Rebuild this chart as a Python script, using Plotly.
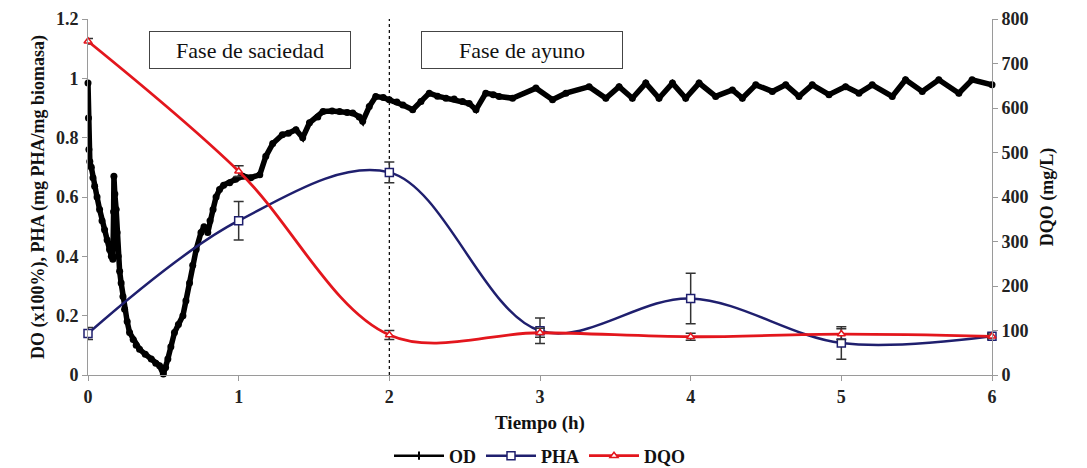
import plotly.graph_objects as go

# ---------------- data ----------------
sample_t = [0, 1, 2, 3, 4, 5, 6]
pha = [0.14, 0.52, 0.683, 0.149, 0.258, 0.108, 0.131]
pha_err = [0.02, 0.065, 0.035, 0.043, 0.085, 0.055, 0.01]
dqo = [750, 458, 90, 95, 86, 92, 87]
dqo_err = [6, 12, 10, 10, 8, 12, 5]

od_t = [0.000, 0.003, 0.006, 0.012, 0.022, 0.033, 0.044, 0.060, 0.077, 0.093,
        0.110, 0.127, 0.143, 0.155, 0.165, 0.170, 0.172, 0.178, 0.187, 0.193,
        0.200, 0.210, 0.220, 0.232, 0.243, 0.260, 0.276, 0.300, 0.320, 0.342,
        0.380, 0.420, 0.450, 0.475, 0.500, 0.515, 0.530, 0.550, 0.574, 0.600,
        0.630, 0.650, 0.674, 0.695, 0.718, 0.750, 0.770, 0.795, 0.810, 0.830,
        0.850, 0.873, 0.900, 0.940, 0.980, 1.027, 1.080, 1.140, 1.180, 1.226,
        1.290, 1.330, 1.380, 1.425, 1.470, 1.525, 1.560, 1.620, 1.670, 1.720,
        1.757, 1.800, 1.823, 1.867, 1.910, 1.960, 2.000, 2.050, 2.090, 2.155,
        2.210, 2.265, 2.320, 2.376, 2.430, 2.486, 2.530, 2.575, 2.640, 2.690,
        2.729, 2.818, 2.973, 3.083, 3.172, 3.326, 3.437, 3.525, 3.613, 3.702,
        3.790, 3.879, 3.967, 4.056, 4.166, 4.277, 4.343, 4.432, 4.542, 4.631,
        4.719, 4.807, 4.918, 5.028, 5.117, 5.205, 5.338, 5.426, 5.537, 5.647,
        5.780, 5.868, 6.000]
od = [0.984, 0.866, 0.760, 0.720, 0.700, 0.665, 0.636, 0.600, 0.558, 0.520,
      0.490, 0.455, 0.423, 0.400, 0.390, 0.550, 0.670, 0.610, 0.558, 0.480,
      0.400, 0.350, 0.310, 0.265, 0.222, 0.180, 0.143, 0.120, 0.100, 0.087,
      0.070, 0.054, 0.040, 0.031, 0.003, 0.025, 0.054, 0.095, 0.143, 0.170,
      0.200, 0.250, 0.310, 0.370, 0.423, 0.480, 0.500, 0.480, 0.520, 0.558,
      0.600, 0.625, 0.640, 0.648, 0.660, 0.670, 0.665, 0.675, 0.737, 0.780,
      0.810, 0.815, 0.827, 0.800, 0.850, 0.870, 0.888, 0.890, 0.888, 0.885,
      0.883, 0.870, 0.855, 0.905, 0.939, 0.935, 0.928, 0.920, 0.910, 0.894,
      0.922, 0.950, 0.940, 0.933, 0.930, 0.922, 0.915, 0.894, 0.950, 0.945,
      0.939, 0.933, 0.967, 0.928, 0.950, 0.972, 0.933, 0.972, 0.933, 0.984,
      0.933, 0.984, 0.933, 0.984, 0.939, 0.961, 0.933, 0.978, 0.956, 0.978,
      0.939, 0.978, 0.945, 0.972, 0.950, 0.978, 0.939, 0.995, 0.956, 0.995,
      0.950, 0.995, 0.978]

x_ticks = [0, 1, 2, 3, 4, 5, 6]
y_ticks = [0, 0.2, 0.4, 0.6, 0.8, 1.0, 1.2]
y_tick_labels = ["0", "0.2", "0.4", "0.6", "0.8", "1", "1.2"]
y2_ticks = [0, 100, 200, 300, 400, 500, 600, 700, 800]

# ---------------- styles ----------------
FONT = "Liberation Serif"
NAVY = "#1f1f6e"
RED = "#e3161d"
AXIS = "#9a9a9a"
TXT = "#222222"

fig = go.Figure()

# OD (dense noisy band)
fig.add_trace(go.Scatter(
    x=od_t, y=od, mode="lines+markers", name="OD", showlegend=False,
    line=dict(color="black", width=5.5),
    marker=dict(symbol="circle", size=7, color="black"),
    cliponaxis=False,
))
# legend entry for OD (thin line with small marker)
fig.add_trace(go.Scatter(
    x=[None], y=[None], mode="lines+markers", name="OD",
    line=dict(color="black", width=2.5),
    marker=dict(symbol="line-ns", size=6, color="black",
                line=dict(color="black", width=2)),
))

# PHA
fig.add_trace(go.Scatter(
    x=sample_t, y=pha, mode="lines+markers", name="PHA",
    line=dict(color=NAVY, width=2.5, shape="spline", smoothing=1.0),
    marker=dict(symbol="square", size=8, color="white",
                line=dict(color=NAVY, width=1.5)),
    error_y=dict(type="data", array=pha_err, visible=True,
                 color="#333333", thickness=1.5, width=5),
    cliponaxis=False,
))

# DQO
fig.add_trace(go.Scatter(
    x=sample_t, y=dqo, mode="lines+markers", name="DQO", yaxis="y2",
    line=dict(color=RED, width=2.8, shape="spline", smoothing=1.0),
    marker=dict(symbol="triangle-up", size=7, color="white",
                line=dict(color=RED, width=1.5)),
    error_y=dict(type="data", array=dqo_err, visible=True,
                 color="#333333", thickness=1.5, width=5),
    cliponaxis=False,
))

# dashed separation line at t=2
fig.add_shape(type="line", x0=2, x1=2, y0=0, y1=1.2, xref="x", yref="y",
              line=dict(color="black", width=1.2, dash="3px,3px"), layer="below")

ann_font = dict(family=FONT, size=22, color="#111111")
fig.add_annotation(x=1.078, y=1.096, xref="x", yref="y", text="Fase de saciedad",
                   showarrow=False, font=ann_font, bgcolor="white",
                   bordercolor="#444444", borderwidth=1, width=196, height=32, borderpad=2)
fig.add_annotation(x=2.882, y=1.096, xref="x", yref="y", text="Fase de ayuno",
                   showarrow=False, font=ann_font, bgcolor="white",
                   bordercolor="#444444", borderwidth=1, width=196, height=32, borderpad=2)

tick_font = dict(family=FONT, size=18, color=TXT, weight="bold")
title_font = dict(family=FONT, size=18, color="#111111", weight="bold")

fig.update_layout(
    width=1087, height=476,
    margin=dict(l=80, r=103, t=11, b=108),
    paper_bgcolor="white", plot_bgcolor="white",
    font=dict(family=FONT, color=TXT),
    xaxis=dict(range=[0, 6], tickvals=x_ticks, showgrid=False, zeroline=False,
               showline=True, linecolor=AXIS, linewidth=1,
               ticks="outside", tickcolor=AXIS, ticklen=5, automargin=False,
               tickfont=tick_font,
               title=dict(text="Tiempo (h)", font=dict(family=FONT, size=19, color="#111111", weight="bold"), standoff=10)),
    yaxis=dict(range=[0, 1.2], tickvals=y_ticks, ticktext=y_tick_labels,
               showgrid=False, zeroline=False, automargin=False,
               showline=True, linecolor=AXIS, linewidth=1,
               ticks="outside", tickcolor=AXIS, ticklen=5,
               tickfont=tick_font,
               title=dict(text="DO (x100%), PHA (mg PHA/mg biomasa)", font=title_font, standoff=6)),
    yaxis2=dict(range=[0, 800], tickvals=y2_ticks, overlaying="y", side="right",
                showgrid=False, zeroline=False, automargin=False,
                showline=True, linecolor=AXIS, linewidth=1,
                ticks="outside", tickcolor=AXIS, ticklen=5,
                tickfont=tick_font,
                title=dict(text="DQO (mg/L)", font=title_font, standoff=12)),
    legend=dict(orientation="h", x=0.5, xanchor="center", y=-0.224, yanchor="middle",
                font=dict(family=FONT, size=18, color="#111111", weight="bold"),
                itemwidth=50, bgcolor="rgba(0,0,0,0)", borderwidth=0,
                tracegroupgap=0),
)

fig.write_html("out.html")
